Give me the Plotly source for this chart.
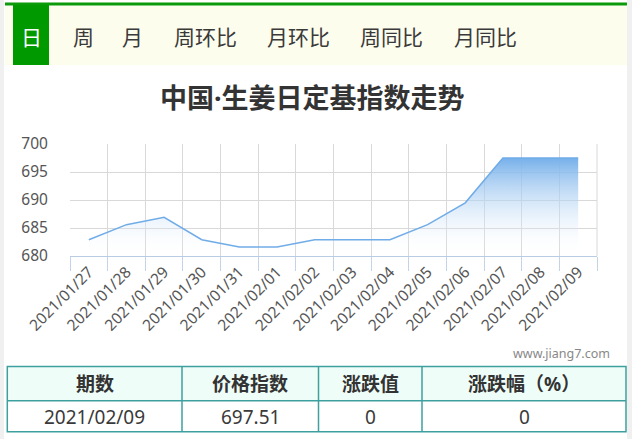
import plotly.graph_objects as go

# ---------------- data ----------------
tabs = ["日", "周", "月", "周环比", "月环比", "周同比", "月同比"]
title_text = "中国·生姜日定基指数走势"
dates = ["2021/01/27", "2021/01/28", "2021/01/29", "2021/01/30", "2021/01/31",
         "2021/02/01", "2021/02/02", "2021/02/03", "2021/02/04", "2021/02/05",
         "2021/02/06", "2021/02/07", "2021/02/08", "2021/02/09"]
index_values = [682.9, 685.6, 686.9, 682.9, 681.6, 681.6, 682.9, 682.9, 682.9,
                685.6, 689.5, 697.51, 697.51, 697.51]
y_ticks = [680, 685, 690, 695, 700]
table_header = ["期数", "价格指数", "涨跌值", "涨跌幅（%）"]
table_row = ["2021/02/09", "697.51", "0", "0"]
watermark = "www.jiang7.com"

# ---------------- layout geometry ----------------
W, H = 632, 439
ML, MR, MT, MB = 70, 35, 144, 183
PW, PH = W - ML - MR, H - MT - MB
FONT = "Noto Sans, Noto Sans CJK SC"


def px(x):
    return (x - ML) / PW


def py(y):
    return (H - MB - y) / PH


fig = go.Figure()
fig.add_trace(go.Scatter(
    x=dates, y=index_values, mode="lines",
    line=dict(color="rgb(112,172,232)", width=1.5),
    fill="tozeroy",
    fillgradient=dict(type="vertical", start=680, stop=max(index_values),
                      colorscale=[[0, "rgba(255,255,255,0)"],
                                  [1, "rgba(118,176,234,1)"]]),
    hoverinfo="skip",
))

shapes = []
annotations = []

# page side borders
shapes.append(dict(type="rect", xref="paper", yref="paper", x0=px(0), x1=px(4),
                   y0=py(0), y1=py(H), fillcolor="#f0f0f0", line=dict(width=0), layer="below"))
shapes.append(dict(type="rect", xref="paper", yref="paper", x0=px(627), x1=px(632),
                   y0=py(0), y1=py(H), fillcolor="#f0f0f0", line=dict(width=0), layer="below"))
# tab bar
shapes.append(dict(type="rect", xref="paper", yref="paper", x0=px(5), x1=px(627),
                   y0=py(5.5), y1=py(65), fillcolor="#fdfdee", line=dict(width=0), layer="below"))
shapes.append(dict(type="rect", xref="paper", yref="paper", x0=px(5), x1=px(627),
                   y0=py(2.5), y1=py(5.5), fillcolor="#0a9a0a", line=dict(width=0), layer="below"))
shapes.append(dict(type="rect", xref="paper", yref="paper", x0=px(13), x1=px(49),
                   y0=py(5), y1=py(65), fillcolor="#009900", line=dict(width=0), layer="below"))

tab_centers = [31, 83, 132.5, 205.5, 298.5, 391.5, 485]
for i, (t, cx) in enumerate(zip(tabs, tab_centers)):
    annotations.append(dict(xref="paper", yref="paper", x=px(cx), y=py(37), text=t,
                            showarrow=False, xanchor="center", yanchor="middle",
                            font=dict(family=FONT, size=21,
                                      color="white" if i == 0 else "#3a3a3a")))

# title
annotations.append(dict(xref="paper", yref="paper", x=px(312), y=py(97), text="<b>%s</b>" % title_text,
                        showarrow=False, xanchor="center", yanchor="middle",
                        font=dict(family=FONT, size=27, color="#333")))

# right edge of grid
shapes.append(dict(type="line", xref="paper", yref="paper", x0=1, x1=1, y0=0, y1=1,
                   line=dict(color="#d9d9d9", width=1), layer="below"))

# watermark
annotations.append(dict(xref="paper", yref="paper", x=px(612), y=py(353), text=watermark,
                        showarrow=False, xanchor="right", yanchor="middle",
                        font=dict(family=FONT, size=12.5, color="#888")))

# table
col_edges = [7.3, 182, 318.5, 422, 626]
row_edges = [366.5, 400.7, 431.7]
teal = "#3e9f9f"
shapes.append(dict(type="rect", xref="paper", yref="paper", x0=px(col_edges[0]), x1=px(col_edges[-1]),
                   y0=py(row_edges[0]), y1=py(row_edges[1]), fillcolor="#effdf8", line=dict(width=0)))
shapes.append(dict(type="rect", xref="paper", yref="paper", x0=px(col_edges[0]), x1=px(col_edges[-1]),
                   y0=py(row_edges[0]), y1=py(row_edges[2]), line=dict(color=teal, width=1.5)))
shapes.append(dict(type="line", xref="paper", yref="paper", x0=px(col_edges[0]), x1=px(col_edges[-1]),
                   y0=py(row_edges[1]), y1=py(row_edges[1]), line=dict(color=teal, width=1.5)))
for xe in col_edges[1:-1]:
    shapes.append(dict(type="line", xref="paper", yref="paper", x0=px(xe), x1=px(xe),
                       y0=py(row_edges[0]), y1=py(row_edges[2]), line=dict(color=teal, width=1.5)))
for i in range(4):
    cx = (col_edges[i] + col_edges[i + 1]) / 2
    annotations.append(dict(xref="paper", yref="paper", x=px(cx), y=py(383.5),
                            text="<b>%s</b>" % table_header[i], showarrow=False,
                            xanchor="center", yanchor="middle",
                            font=dict(family=FONT, size=19, color="#333")))
    annotations.append(dict(xref="paper", yref="paper", x=px(cx), y=py(416.5),
                            text=table_row[i], showarrow=False,
                            xanchor="center", yanchor="middle",
                            font=dict(family=FONT, size=19, color="#3a3a3a")))

fig.update_layout(
    width=W, height=H,
    margin=dict(l=ML, r=MR, t=MT, b=MB, pad=0),
    paper_bgcolor="white", plot_bgcolor="white",
    showlegend=False,
    shapes=shapes, annotations=annotations,
    xaxis=dict(type="category", range=[-0.5, len(dates) - 0.5], tickson="boundaries",
               ticks="outside", ticklen=14, tickcolor="#c3d4e8", tickwidth=1,
               showline=True, linecolor="#b8cce4", linewidth=1,
               showgrid=True, gridcolor="#d9d9d9", gridwidth=1,
               tickangle=-45, tickfont=dict(family=FONT, size=15.5, color="#555"),
               zeroline=False, fixedrange=True),
    yaxis=dict(range=[680, 700], tickvals=y_ticks, ticks="outside", ticklen=18,
               tickcolor="rgba(0,0,0,0)", showline=False, zeroline=False,
               showgrid=True, gridcolor="#d9d9d9", gridwidth=1,
               tickfont=dict(family=FONT, size=15.5, color="#555"), fixedrange=True),
)

fig.write_html("out.html", config={"displayModeBar": False},
               post_script="document.body.style.margin='0';document.body.style.overflow='hidden';")
